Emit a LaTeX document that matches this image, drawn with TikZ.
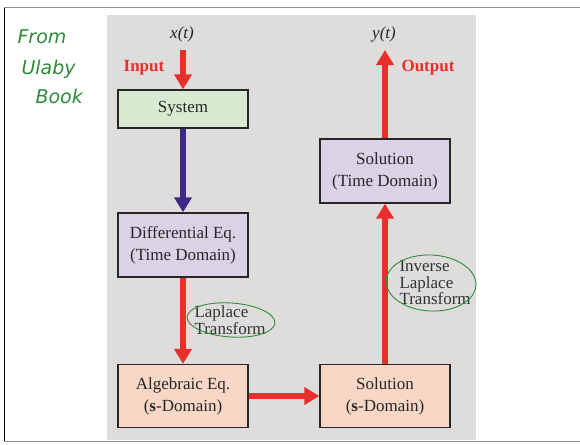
\documentclass[tikz,border=0pt]{standalone}
\usepackage{fontspec}
\setmainfont{Liberation Serif}
\newfontfamily\handfont{DejaVu Sans}
\usetikzlibrary{arrows.meta,shapes.geometric}
\definecolor{panelgray}{HTML}{DFDDDB}
\definecolor{sysgreen}{HTML}{D8EBD2}
\definecolor{lavender}{HTML}{DBD2E6}
\definecolor{peach}{HTML}{F9D7C7}
\definecolor{flowred}{HTML}{E8302A}
\definecolor{flowpurple}{HTML}{3D2A86}
\definecolor{inkgreen}{HTML}{2E8B3A}
\definecolor{framegray}{HTML}{8C8C8C}
\tikzset{
  blockbox/.style={draw=black!85, line width=1.3pt, minimum width=130pt, inner sep=0pt,
    font=\fontsize{17}{22}\selectfont, align=center, text=black!85},
  redflow/.style={draw=flowred, line width=6pt, -{Triangle[width=17pt,length=15pt]}, color=flowred},
  purpleflow/.style={draw=flowpurple, line width=6pt, -{Triangle[width=17pt,length=15pt]}, color=flowpurple},
  flowlabel/.style={font=\bfseries\fontsize{17}{19}\selectfont, text=flowred},
  sigtext/.style={font=\itshape\fontsize{17}{19}\selectfont, text=black!85},
  notetext/.style={font=\fontsize{17}{16.5}\selectfont, align=left, text=black!80},
  scribble/.style={draw=inkgreen, line width=0.9pt},
  handnote/.style={font=\handfont\itshape\fontsize{19}{21}\selectfont, text=inkgreen, anchor=west}
}
\begin{document}
\begin{tikzpicture}[x=1pt,y=-1pt]
  \useasboundingbox (0,0) rectangle (580,444);
  \fill[white] (0,0) rectangle (580,444);
  % page frame
  \draw[framegray, line width=1pt] (4,8) -- (580,8);
  \draw[framegray, line width=1pt] (4,441) -- (580,441);
  \draw[black, line width=1pt] (4,8) -- (4,441);
  % grey panel
  \fill[panelgray] (107,15) rectangle (476,440);

  % handwritten note
  \node[handnote] (n1) at (14,37) {From};
  \node[handnote] (n2) at (18,69) {Ulaby};
  \node[handnote] (n3) at (32,96) {Book};

  % blocks
  \node[blockbox, fill=sysgreen, minimum height=38pt] (sys) at (183,109) {System};
  \node[blockbox, fill=lavender, minimum height=64pt] (diff) at (183,245) {Differential Eq.\\(Time Domain)};
  \node[blockbox, fill=peach, minimum height=63pt] (alg) at (183,396) {Algebraic Eq.\\(\textbf{s}-Domain)};
  \node[blockbox, fill=peach, minimum height=63pt] (sols) at (385,396) {Solution\\(\textbf{s}-Domain)};
  \node[blockbox, fill=lavender, minimum height=64pt] (solt) at (385,171) {Solution\\(Time Domain)};

  % signals
  \node[sigtext] (x) at (182,34) {x(t)};
  \node[sigtext] (y) at (384,34) {y(t)};
  \coordinate (xin) at (183,50);
  \coordinate (yout) at (385,50);
  \node[flowlabel] (inlab) at (144,68) {Input};
  \node[flowlabel] (outlab) at (428,68) {Output};

  % flow arrows
  \draw[redflow] (xin) -- (sys.north);
  \draw[purpleflow] (sys.south) -- (diff.north);
  \draw[redflow] (diff.south) -- (alg.north);
  \draw[redflow] (alg.east) -- (sols.west);
  \draw[redflow] (sols.north) -- (solt.south);
  \draw[redflow] (solt.north) -- (yout);

  % transform labels with hand-drawn rings
  \node[notetext, anchor=west] (lap) at (191,320) {Laplace\\Transform};
  \draw[scribble, rotate around={-4:(231,320)}] (231,320) ellipse (44pt and 17pt);
  \node[notetext, anchor=west] (ilap) at (396,283) {Inverse\\Laplace\\Transform};
  \draw[scribble, rotate around={-3:(431,283)}] (431,283) ellipse (45pt and 28pt);
\end{tikzpicture}
\end{document}
